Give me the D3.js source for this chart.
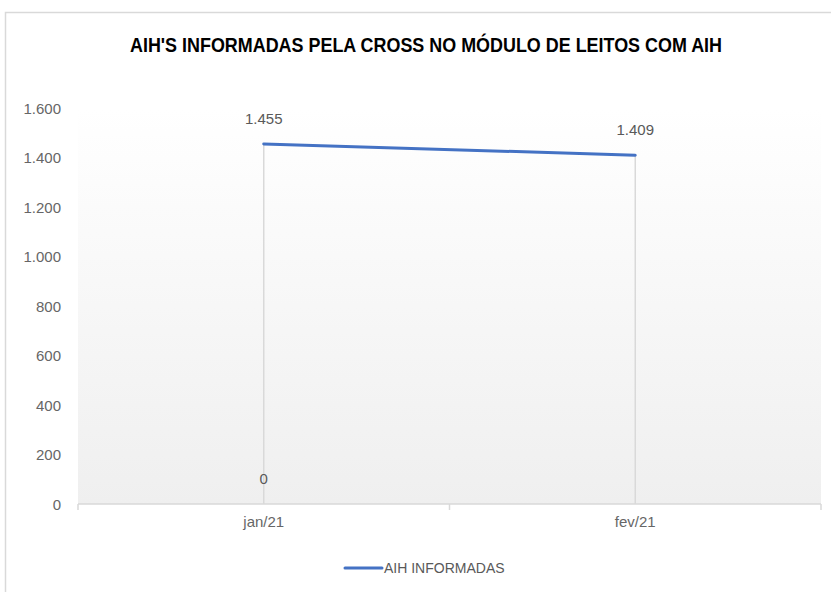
<!DOCTYPE html>
<html>
<head>
<meta charset="utf-8">
<script src="https://cdn.jsdelivr.net/npm/d3@7"></script>
<style>
  html, body { margin: 0; padding: 0; background: #ffffff; }
  svg { display: block; }
</style>
</head>
<body>
<svg id="chart" width="831" height="592"></svg>
<script>
// ---- data ----
const categories = ["jan/21", "fev/21"];
const aihInformadas = [1455, 1409];
const zeroLabelSeries = [0, null];
const seriesName = "AIH INFORMADAS";
const yTicks = [0, 200, 400, 600, 800, 1000, 1200, 1400, 1600];
const title = "AIH'S INFORMADAS PELA CROSS NO MÓDULO DE LEITOS COM AIH";

// ---- layout ----
const W = 831, H = 592;
const plot = { left: 78, right: 821, top: 108, bottom: 504 };
const svg = d3.select("#chart");

const fmt = v => d3.format(",")(v).replace(/,/g, ".");

// chart border
svg.append("rect")
  .attr("x", 5.5).attr("y", 12.5)
  .attr("width", W).attr("height", H)
  .attr("fill", "#ffffff")
  .attr("stroke", "#d9d9d9").attr("stroke-width", 1.5);

// gradient plot area
const defs = svg.append("defs");
const grad = defs.append("linearGradient").attr("id", "pg")
  .attr("x1", 0).attr("y1", 0).attr("x2", 0).attr("y2", 1);
grad.append("stop").attr("offset", "0%").attr("stop-color", "#ffffff");
grad.append("stop").attr("offset", "100%").attr("stop-color", "#efefef");

const x = d3.scaleBand().domain(categories).range([plot.left, plot.right]).padding(0);
const y = d3.scaleLinear().domain([0, 1600]).range([plot.bottom, plot.top]);

svg.append("rect")
  .attr("x", plot.left).attr("y", plot.top)
  .attr("width", plot.right - plot.left).attr("height", plot.bottom - plot.top)
  .attr("fill", "url(#pg)");

// title
svg.append("text")
  .attr("x", 426).attr("y", 52)
  .attr("text-anchor", "middle")
  .attr("font-family", "'Liberation Sans Narrow', 'Liberation Sans', sans-serif")
  .attr("font-weight", "bold")
  .attr("font-size", 19.5)
  .attr("fill", "#000000")
  .attr("textLength", 592)
  .attr("lengthAdjust", "spacingAndGlyphs")
  .text(title);

// y axis labels (no line)
const yAxis = d3.axisLeft(y).tickValues(yTicks).tickFormat(fmt).tickSize(0).tickPadding(0);
const gy = svg.append("g").attr("transform", `translate(61,0)`).call(yAxis);
gy.select(".domain").remove();
gy.selectAll("text")
  .attr("font-family", "'Liberation Sans', Arial, sans-serif")
  .attr("font-size", 15)
  .attr("fill", "#666666")
  .attr("dy", "0.35em");

// drop lines
const cx = c => x(c) + x.bandwidth() / 2;
svg.append("g").selectAll("line")
  .data(categories)
  .join("line")
  .attr("x1", d => cx(d)).attr("x2", d => cx(d))
  .attr("y1", (d, i) => y(aihInformadas[i]))
  .attr("y2", y(0))
  .attr("stroke", "#d9d9d9").attr("stroke-width", 1.5);

// x axis
const xAxis = d3.axisBottom(x).tickSize(0).tickPadding(0);
const gx = svg.append("g").attr("transform", `translate(0,${plot.bottom})`).call(xAxis);
gx.select(".domain").remove();
gx.selectAll("text")
  .attr("font-family", "'Liberation Sans', Arial, sans-serif")
  .attr("font-size", 15)
  .attr("fill", "#666666")
  .attr("dy", "1.55em");
svg.append("line")
  .attr("x1", plot.left).attr("x2", plot.right)
  .attr("y1", plot.bottom).attr("y2", plot.bottom)
  .attr("stroke", "#d9d9d9").attr("stroke-width", 1.5);
// category boundary ticks
const boundaries = [plot.left, ...categories.map(c => x(c) + x.bandwidth())];
svg.append("g").selectAll("line")
  .data(boundaries)
  .join("line")
  .attr("x1", d => d).attr("x2", d => d)
  .attr("y1", plot.bottom).attr("y2", plot.bottom + 6)
  .attr("stroke", "#d9d9d9").attr("stroke-width", 1.5);

// series line
const line = d3.line().x((d, i) => cx(categories[i])).y(d => y(d));
svg.append("path")
  .datum(aihInformadas)
  .attr("d", line)
  .attr("fill", "none")
  .attr("stroke", "#4472c4")
  .attr("stroke-width", 3)
  .attr("stroke-linecap", "round");

// data labels
svg.append("g").selectAll("text")
  .data(aihInformadas)
  .join("text")
  .attr("x", (d, i) => cx(categories[i]))
  .attr("y", d => y(d) - 20)
  .attr("text-anchor", "middle")
  .attr("font-family", "'Liberation Sans', Arial, sans-serif")
  .attr("font-size", 15)
  .attr("fill", "#595959")
  .text(fmt);

svg.append("g").selectAll("text")
  .data(zeroLabelSeries.map((v, i) => ({ v, c: categories[i] })).filter(d => d.v !== null))
  .join("text")
  .attr("x", d => cx(d.c))
  .attr("y", d => y(d.v) - 20)
  .attr("text-anchor", "middle")
  .attr("font-family", "'Liberation Sans', Arial, sans-serif")
  .attr("font-size", 15)
  .attr("fill", "#595959")
  .text(d => fmt(d.v));

// legend
const lg = svg.append("g").attr("transform", "translate(345,568)");
lg.append("line").attr("x1", 0).attr("x2", 37).attr("y1", 0).attr("y2", 0)
  .attr("stroke", "#4472c4").attr("stroke-width", 3).attr("stroke-linecap", "round");
lg.append("text").attr("x", 39).attr("y", 0).attr("dy", "0.35em")
  .attr("font-family", "'Liberation Sans', Arial, sans-serif")
  .attr("font-size", 14)
  .attr("fill", "#595959")
  .text(seriesName);
</script>
</body>
</html>
